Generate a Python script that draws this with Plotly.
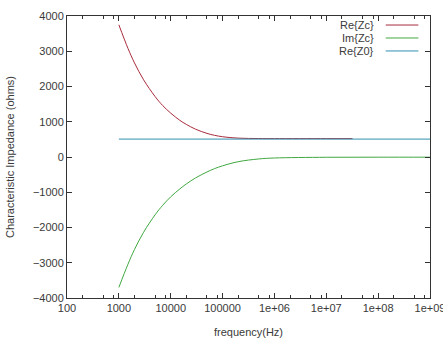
import plotly.graph_objects as go

# ---- data ----
freq_re = [1e3, 1.5e3, 2e3, 3e3, 5e3, 7e3, 1e4, 1.5e4, 2e4, 3e4, 5e4, 7e4,
           1e5, 2e5, 5e5, 1e6, 1e7, 3.2e7]
re_zc = [3750, 3080, 2670, 2190, 1715, 1460, 1245, 1040, 925, 790, 670, 615,
         575, 535, 524, 522, 522, 522]

freq_im = [1e3, 1.5e3, 2e3, 3e3, 5e3, 7e3, 1e4, 1.5e4, 2e4, 3e4, 5e4, 7e4,
           1e5, 2e5, 5e5, 1e6, 1e7, 1e8, 1e9]
im_zc = [-3700, -3040, -2625, -2135, -1640, -1370, -1130, -905, -765, -595,
         -425, -330, -250, -133, -55, -28, -8, -5, -5]

freq_z0 = [1e3, 1e9]
re_z0 = [508, 508]

series_names = ["Re{Zc}", "Im{Zc}", "Re{Z0}"]
series_colors = ["#a82c3c", "#40a840", "#3090b0"]

x_tickvals = [1e2, 1e3, 1e4, 1e5, 1e6, 1e7, 1e8, 1e9]
x_ticktext = ["100", "1000", "10000", "100000", "1e+06", "1e+07", "1e+08", "1e+09"]
x_minor = [m * 10 ** d for d in range(2, 9) for m in (2, 5, 8)]
y_tickvals = list(range(-4000, 4001, 1000))

FONT = "Liberation Sans, Arial, sans-serif"
TXT = "#3a3a3a"

fig = go.Figure()
for fx, fy, name, col in zip([freq_re, freq_im, freq_z0],
                             [re_zc, im_zc, re_z0], series_names, series_colors):
    fig.add_trace(go.Scatter(x=fx, y=fy, mode="lines", name=name,
                             line=dict(color=col, width=1, shape="spline"),
                             showlegend=False, cliponaxis=False))

# gnuplot-style legend: text right-aligned, sample line to its right
annotations = []
shapes = []
leg_y0 = 0.968
leg_dy = 0.046
for i, (name, col) in enumerate(zip(series_names, series_colors)):
    yy = leg_y0 - i * leg_dy
    annotations.append(dict(xref="paper", yref="paper", x=0.850, y=yy,
                            text=name, showarrow=False, xanchor="right",
                            yanchor="middle",
                            font=dict(family=FONT, size=11, color=TXT)))
    shapes.append(dict(type="line", xref="paper", yref="paper",
                       x0=0.878, x1=0.968, y0=yy, y1=yy,
                       line=dict(color=col, width=1)))

axis_common = dict(showgrid=False, zeroline=False, showline=True,
                   linecolor="#333", linewidth=1, mirror="ticks",
                   ticks="inside", ticklen=5, tickcolor="#333",
                   automargin=False,
                   tickfont=dict(family=FONT, size=11, color=TXT))

fig.update_layout(
    width=443, height=340,
    margin=dict(l=67, r=13, t=16, b=42),
    paper_bgcolor="white", plot_bgcolor="white",
    annotations=annotations, shapes=shapes,
    xaxis=dict(type="log", range=[2, 9], tickmode="array",
               tickvals=x_tickvals, ticktext=x_ticktext,
               ticklabeloverflow="allow",
               minor=dict(tickmode="array", tickvals=x_minor, ticks="inside",
                          ticklen=3, tickcolor="#333", showgrid=False),
               title=dict(text="frequency(Hz)", standoff=15,
                          font=dict(family=FONT, size=11, color=TXT)),
               **axis_common),
    yaxis=dict(range=[-4000, 4000], tickmode="array", tickvals=y_tickvals,
               title=dict(text="Characteristic Impedance (ohms)", standoff=16,
                          font=dict(family=FONT, size=11, color=TXT)),
               **axis_common),
)

fig.write_html("out.html")
